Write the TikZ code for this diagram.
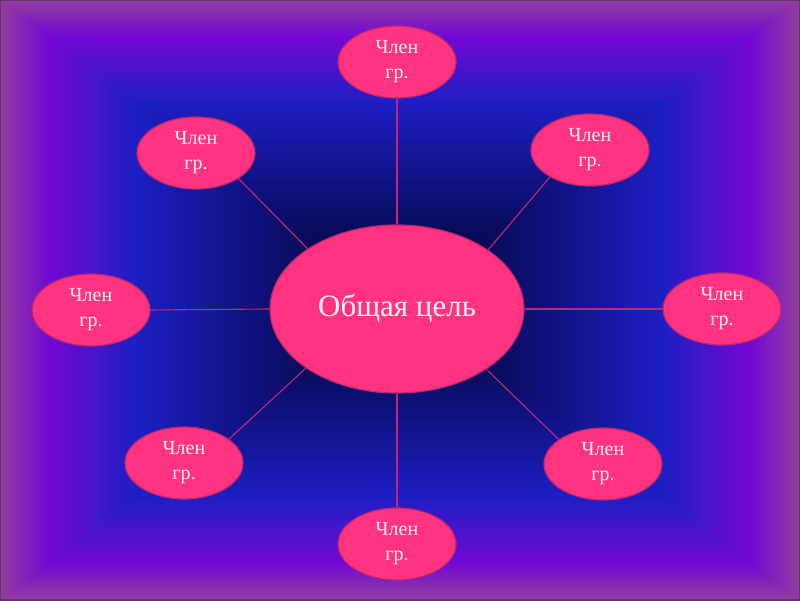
\documentclass[tikz,border=0pt]{standalone}
\usepackage{fontspec}
\setmainfont{Liberation Serif}
\usetikzlibrary{shapes.geometric}
\definecolor{bgA}{RGB}{145,62,160}
\definecolor{bgB}{RGB}{115,8,212}
\definecolor{bgC}{RGB}{28,30,195}
\definecolor{bgD}{RGB}{14,16,120}
\definecolor{bgE}{RGB}{0,0,30}
\definecolor{edge}{RGB}{95,55,105}
\definecolor{pinkfill}{RGB}{255,51,128}
\definecolor{pinkdraw}{RGB}{185,40,110}
\definecolor{linkc}{RGB}{185,40,125}
\definecolor{txt}{RGB}{255,240,245}
\tikzset{
  member/.style={ellipse, fill=pinkfill, draw=pinkdraw, line width=1.2pt,
    minimum width=118pt, minimum height=72pt, inner sep=0pt,
    text=txt, align=center, font=\fontsize{20}{25}\selectfont},
  goal/.style={ellipse, fill=pinkfill, draw=pinkdraw, line width=1.2pt,
    minimum width=254pt, minimum height=168pt, inner sep=0pt,
    text=txt, font=\fontsize{31}{36}\selectfont},
  link/.style={draw=linkc, line width=1.1pt}
}
\begin{document}
\begin{tikzpicture}[x=1pt,y=1pt]
\useasboundingbox (0,0) rectangle (800,600);
% background: rectangular gradient from centre
\foreach \ta/\tb/\ca/\cb in {1.0/0.88/bgA/bgB, 0.88/0.66/bgB/bgC, 0.66/0.35/bgC/bgD, 0.35/0.0/bgD/bgE}{
  \foreach \k in {0,...,30}{
    \pgfmathsetmacro\tt{\ta-(\ta-\tb)*\k/30}
    \pgfmathsetmacro\pp{100*\k/30}
    \fill[fill={\cb!\pp!\ca}] (400-400*\tt,300-300*\tt) rectangle (400+400*\tt,300+300*\tt);
  }
}
\draw[edge, line width=1.5pt] (0,0) rectangle (800,600);
% nodes
\node[goal] (c) at (397,291) {Общая цель};
\node[member] (t)  at (397,538) {Член\\гр.};
\node[member] (tl) at (196,447) {Член\\гр.};
\node[member] (tr) at (590,450) {Член\\гр.};
\node[member] (l)  at (91,290) {Член\\гр.};
\node[member] (r)  at (722,291) {Член\\гр.};
\node[member] (bl) at (184,137) {Член\\гр.};
\node[member] (br) at (603,136) {Член\\гр.};
\node[member] (b)  at (397,56) {Член\\гр.};
% connectors
\draw[link] (c.north) -- (t.south);
\draw[link] (c.south) -- (b.north);
\draw[link] (c.west) -- (l.east);
\draw[link] (c.east) -- (r.west);
\draw[link] (c.146) -- (tl.-31);
\draw[link] (c.33) -- (tr.-146);
\draw[link] (c.213) -- (bl.28);
\draw[link] (c.-34) -- (br.151);
\end{tikzpicture}
\end{document}
